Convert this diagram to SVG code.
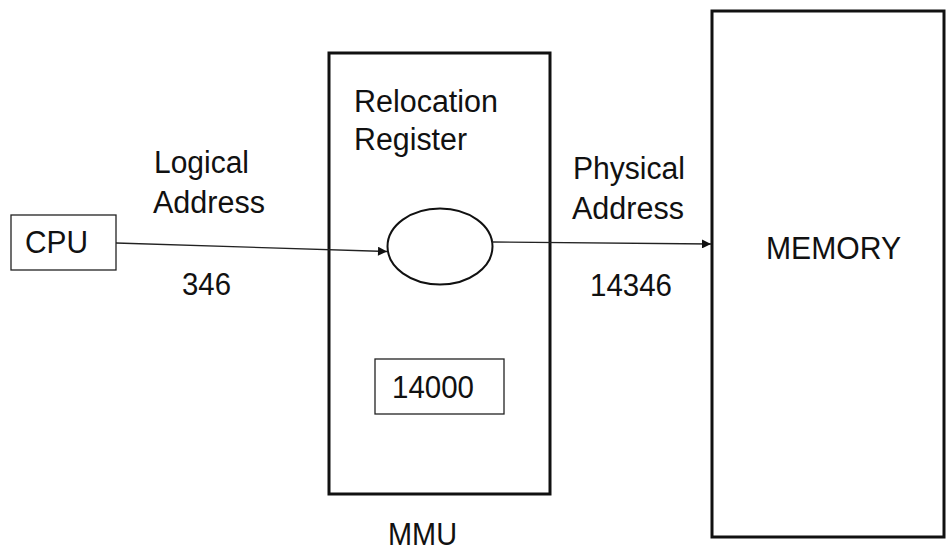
<svg xmlns="http://www.w3.org/2000/svg" width="946" height="552" viewBox="0 0 946 552">
<defs>
<style>
text{font-family:"Liberation Sans",Arial,sans-serif;font-size:31px;fill:#111}
.thin{fill:#fff;stroke:#222;stroke-width:1.3}
.thick{fill:#fff;stroke:#111;stroke-width:3}
.conn{stroke:#222;stroke-width:1.4;fill:none}
</style>
<marker id="ah" viewBox="0 0 10 10" refX="10" refY="5" markerWidth="10" markerHeight="9" markerUnits="userSpaceOnUse" orient="auto">
<path d="M0,0 L10,5 L0,10 z" fill="#111"/>
</marker>
</defs>
<rect width="946" height="552" fill="#fff"/>
<g id="memory">
<rect class="thick" x="712" y="11" width="232" height="526"/>
<text x="766" y="259" textLength="135" lengthAdjust="spacingAndGlyphs">MEMORY</text>
</g>
<g id="mmu">
<rect class="thick" x="329" y="53" width="221" height="441"/>
<text x="354" y="112" textLength="144" lengthAdjust="spacingAndGlyphs">Relocation</text>
<text x="354" y="150" textLength="113" lengthAdjust="spacingAndGlyphs">Register</text>
<text x="388" y="545" textLength="69" lengthAdjust="spacingAndGlyphs">MMU</text>
</g>
<g id="adder">
<ellipse cx="440" cy="246.5" rx="52.5" ry="38" fill="#fff" stroke="#111" stroke-width="2"/>
</g>
<g id="register">
<rect class="thin" x="375" y="359" width="129" height="55" stroke-width="1"/>
<text x="392" y="398" textLength="82" lengthAdjust="spacingAndGlyphs">14000</text>
</g>
<g id="cpu">
<rect class="thin" x="11" y="215" width="105" height="55"/>
<text x="25" y="253" textLength="63" lengthAdjust="spacingAndGlyphs">CPU</text>
</g>
<g id="connectors">
<line class="conn" x1="116" y1="243" x2="387" y2="251.5" marker-end="url(#ah)"/>
<line class="conn" x1="492" y1="242" x2="711" y2="244" marker-end="url(#ah)"/>
</g>
<g id="labels">
<text x="154" y="173" textLength="95" lengthAdjust="spacingAndGlyphs">Logical</text>
<text x="153" y="213" textLength="112" lengthAdjust="spacingAndGlyphs">Address</text>
<text x="182" y="295" textLength="49" lengthAdjust="spacingAndGlyphs">346</text>
<text x="573" y="179" textLength="112" lengthAdjust="spacingAndGlyphs">Physical</text>
<text x="572" y="219" textLength="112" lengthAdjust="spacingAndGlyphs">Address</text>
<text x="590" y="296" textLength="82" lengthAdjust="spacingAndGlyphs">14346</text>
</g>
</svg>
